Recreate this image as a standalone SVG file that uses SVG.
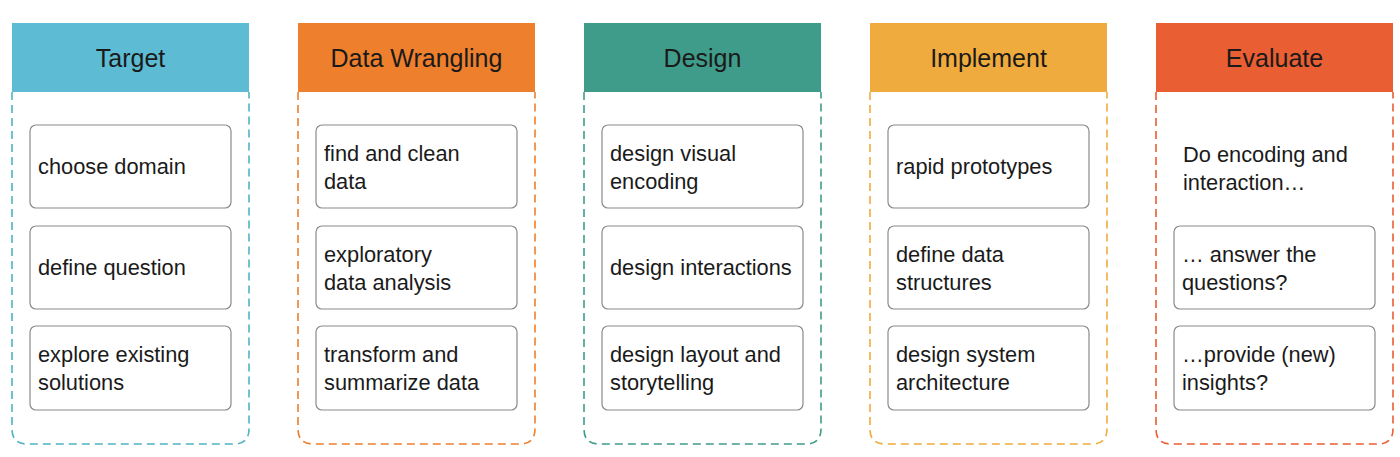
<svg xmlns="http://www.w3.org/2000/svg" width="1400" height="457" viewBox="0 0 1400 457">
<style>
.hdr{stroke:none}
.hdrtxt{font-family:"Liberation Sans",Arial,sans-serif;font-size:25px;fill:#1a1a1a;text-anchor:middle}
.cont{fill:none;stroke-width:1.6;stroke-dasharray:8 5}
.box{fill:#fff;stroke:#8a8a8a;stroke-width:1.2}
.txt{font-family:"Liberation Sans",Arial,sans-serif;font-size:21.8px;fill:#1a1a1a}
</style>
<rect width="1400" height="457" fill="#fff"/>
<g id="connectors"/>
<g id="col-target">
<rect class="hdr" x="12" y="23" width="237" height="69" fill="#5DBCD3"/>
<text class="hdrtxt" x="130.5" y="67">Target</text>
<path class="cont" stroke="#4FB3C4" d="M12 92 V429 Q12 444 27 444 H234 Q249 444 249 429 V92"/>
<g id="t1"><rect class="box" x="30" y="125" width="201" height="83" rx="6"/><text class="txt" x="38" y="174">choose domain</text></g>
<g id="t2"><rect class="box" x="30" y="226" width="201" height="83" rx="6"/><text class="txt" x="38" y="275">define question</text></g>
<g id="t3"><rect class="box" x="30" y="326" width="201" height="84" rx="6"/><text class="txt" x="38" y="362">explore existing</text><text class="txt" x="38" y="390">solutions</text></g>
</g>
<g id="col-wrangling">
<rect class="hdr" x="298" y="23" width="237" height="69" fill="#EE7F2D"/>
<text class="hdrtxt" x="416.5" y="67">Data Wrangling</text>
<path class="cont" stroke="#EE7F2D" d="M298 92 V429 Q298 444 313 444 H520 Q535 444 535 429 V92"/>
<g id="w1"><rect class="box" x="316" y="125" width="201" height="83" rx="6"/><text class="txt" x="324" y="161">find and clean</text><text class="txt" x="324" y="189">data</text></g>
<g id="w2"><rect class="box" x="316" y="226" width="201" height="83" rx="6"/><text class="txt" x="324" y="262">exploratory</text><text class="txt" x="324" y="290">data analysis</text></g>
<g id="w3"><rect class="box" x="316" y="326" width="201" height="84" rx="6"/><text class="txt" x="324" y="362">transform and</text><text class="txt" x="324" y="390">summarize data</text></g>
</g>
<g id="col-design">
<rect class="hdr" x="584" y="23" width="237" height="69" fill="#409C8A"/>
<text class="hdrtxt" x="702.5" y="67">Design</text>
<path class="cont" stroke="#409C8A" d="M584 92 V429 Q584 444 599 444 H806 Q821 444 821 429 V92"/>
<g id="d1"><rect class="box" x="602" y="125" width="201" height="83" rx="6"/><text class="txt" x="610" y="161">design visual</text><text class="txt" x="610" y="189">encoding</text></g>
<g id="d2"><rect class="box" x="602" y="226" width="201" height="83" rx="6"/><text class="txt" x="610" y="275">design interactions</text></g>
<g id="d3"><rect class="box" x="602" y="326" width="201" height="84" rx="6"/><text class="txt" x="610" y="362">design layout and</text><text class="txt" x="610" y="390">storytelling</text></g>
</g>
<g id="col-implement">
<rect class="hdr" x="870" y="23" width="237" height="69" fill="#F0AB3E"/>
<text class="hdrtxt" x="988.5" y="67">Implement</text>
<path class="cont" stroke="#F0AB3E" d="M870 92 V429 Q870 444 885 444 H1092 Q1107 444 1107 429 V92"/>
<g id="i1"><rect class="box" x="888" y="125" width="201" height="83" rx="6"/><text class="txt" x="896" y="174">rapid prototypes</text></g>
<g id="i2"><rect class="box" x="888" y="226" width="201" height="83" rx="6"/><text class="txt" x="896" y="262">define data</text><text class="txt" x="896" y="290">structures</text></g>
<g id="i3"><rect class="box" x="888" y="326" width="201" height="84" rx="6"/><text class="txt" x="896" y="362">design system</text><text class="txt" x="896" y="390">architecture</text></g>
</g>
<g id="col-evaluate">
<rect class="hdr" x="1156" y="23" width="237" height="69" fill="#EA5E33"/>
<text class="hdrtxt" x="1274.5" y="67">Evaluate</text>
<path class="cont" stroke="#EA5E33" d="M1156 92 V429 Q1156 444 1171 444 H1378 Q1393 444 1393 429 V92"/>
<g id="e1"><text class="txt" x="1183" y="162">Do encoding and</text><text class="txt" x="1183" y="190">interaction…</text></g>
<g id="e2"><rect class="box" x="1174" y="226" width="201" height="83" rx="6"/><text class="txt" x="1182" y="262">… answer the</text><text class="txt" x="1182" y="290">questions?</text></g>
<g id="e3"><rect class="box" x="1174" y="326" width="201" height="84" rx="6"/><text class="txt" x="1182" y="362">…provide (new)</text><text class="txt" x="1182" y="390">insights?</text></g>
</g>
</svg>
